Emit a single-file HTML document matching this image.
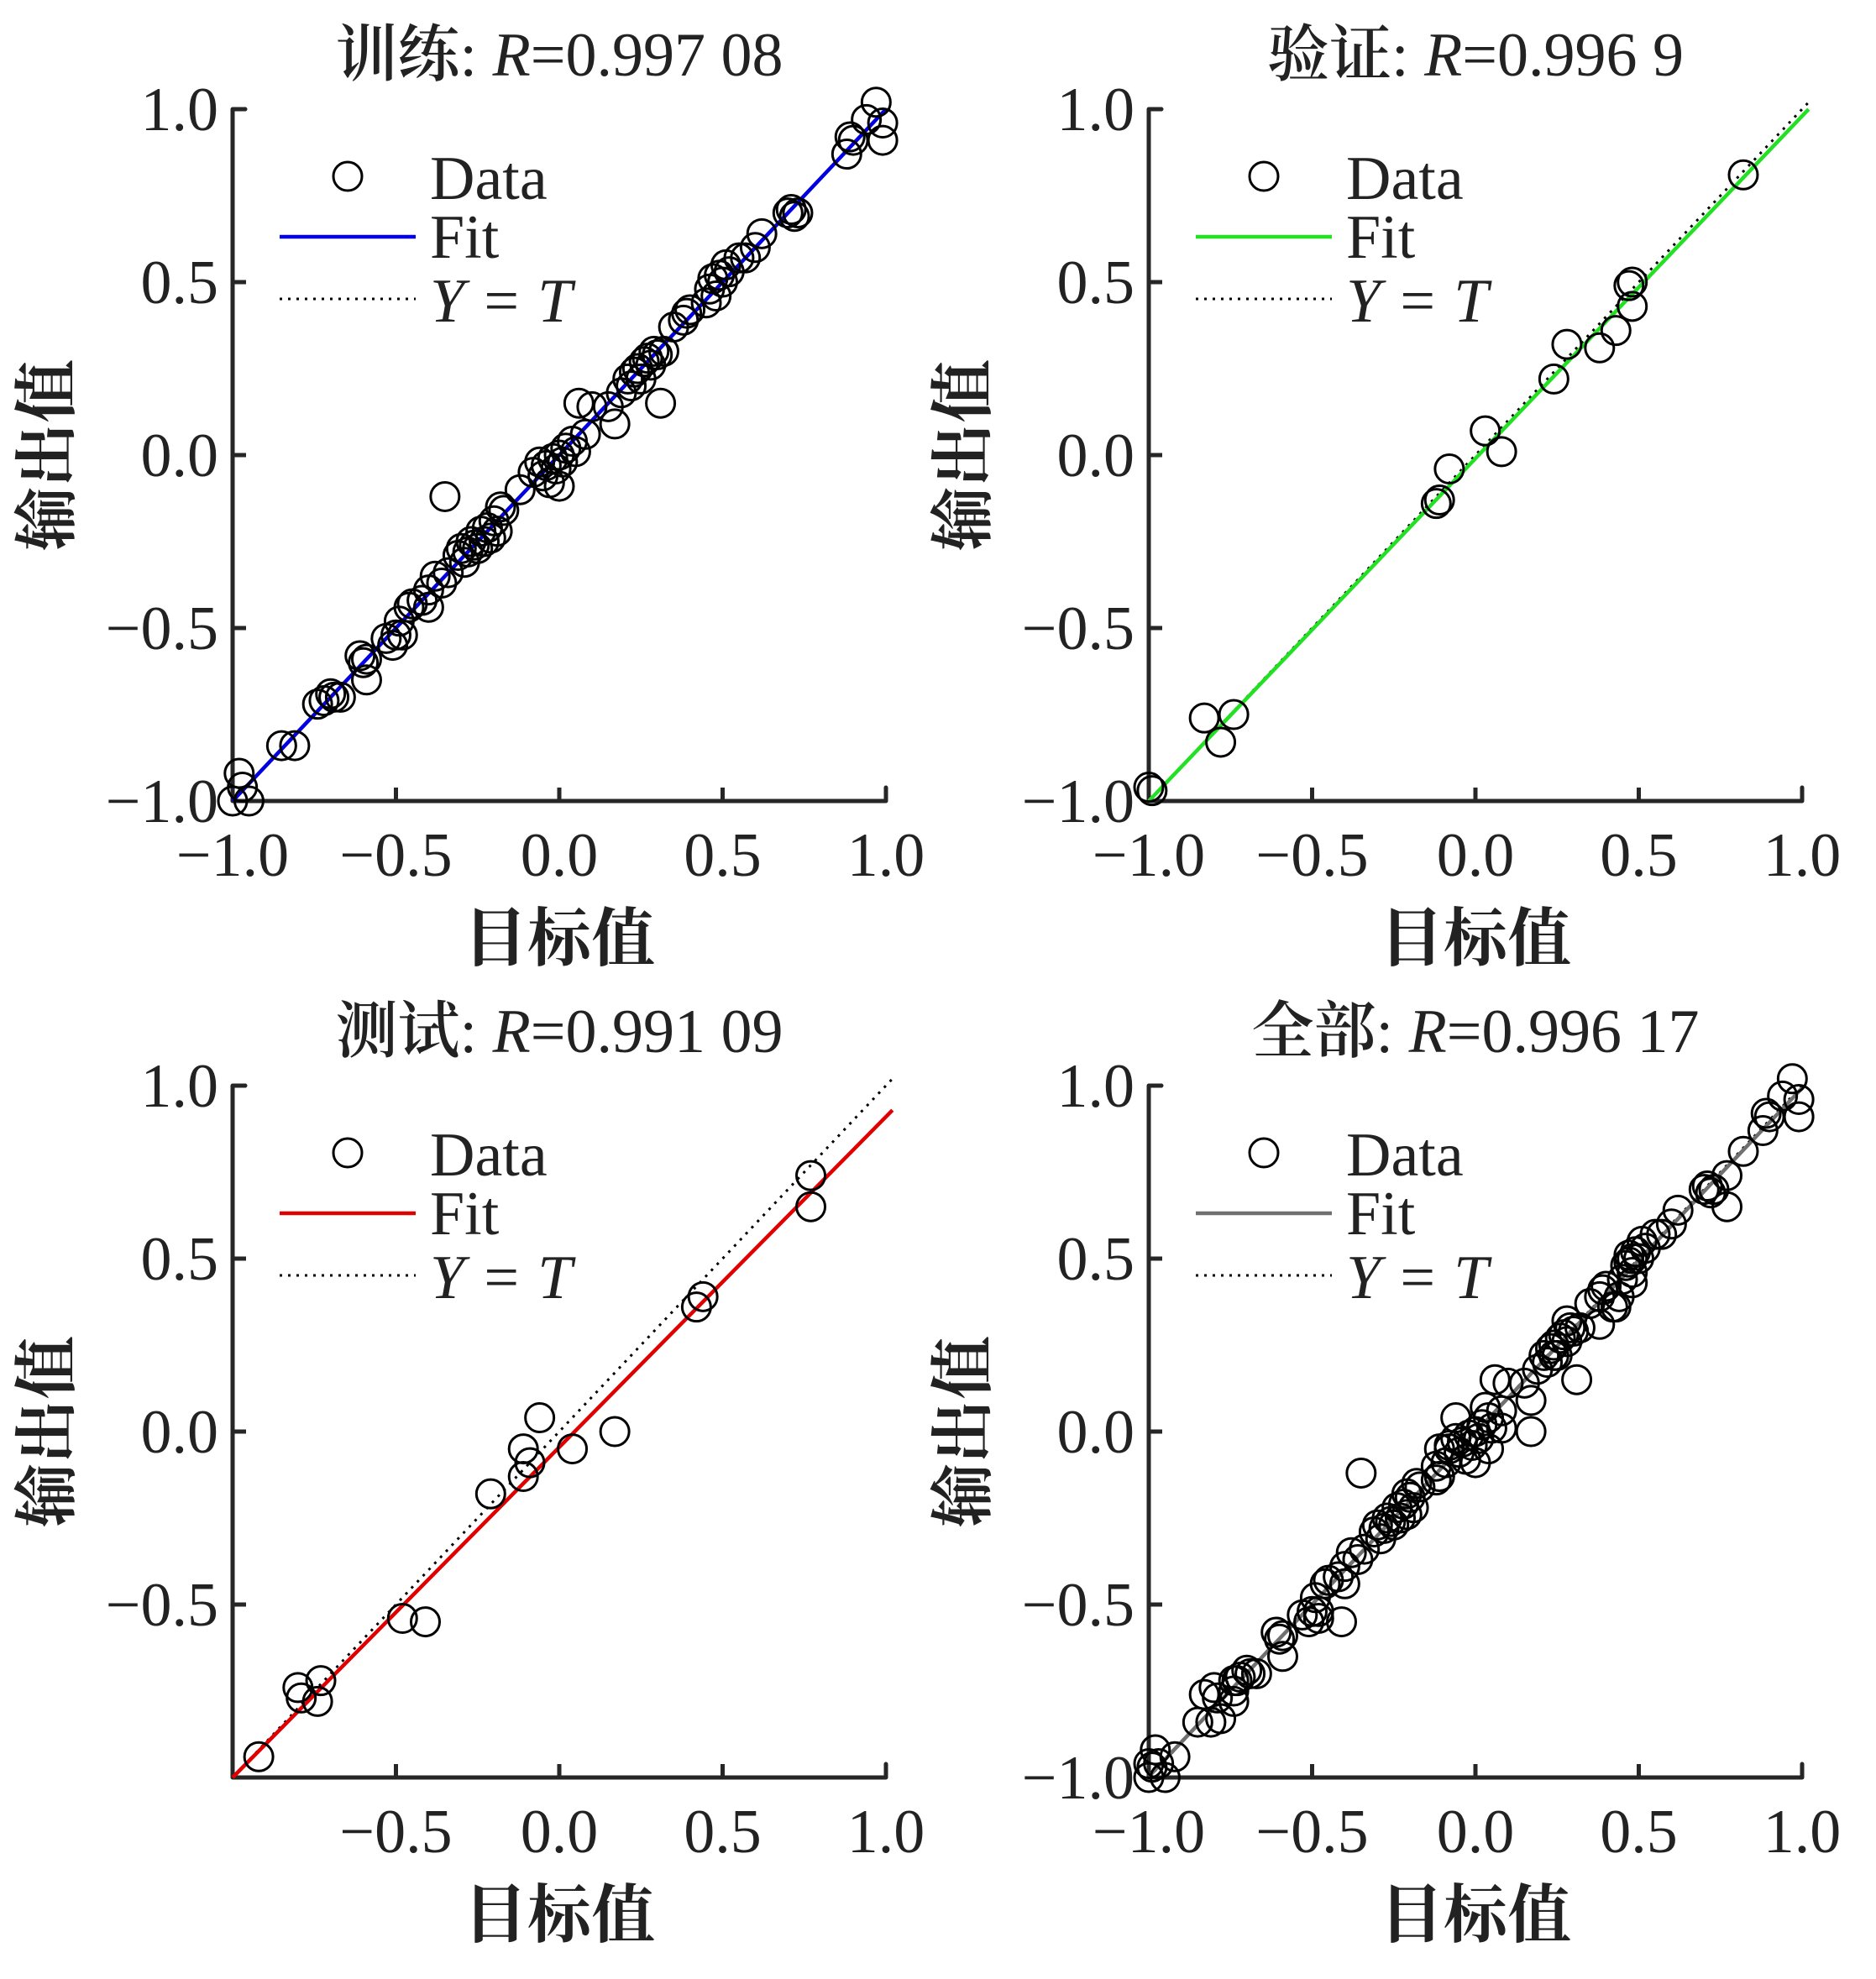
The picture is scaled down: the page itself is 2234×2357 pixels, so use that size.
<!DOCTYPE html>
<html><head><meta charset="utf-8"><style>
html,body{margin:0;padding:0;background:#fff;}
svg{display:block;}
text{font-family:"Liberation Serif","Noto Serif CJK SC",serif;fill:#222;}
.cjk{font-family:"Liberation Serif","Noto Serif CJK SC",serif;font-weight:700;}
.cjkt{font-family:"Liberation Serif","Noto Serif CJK SC",serif;font-weight:600;}
</style></head><body>
<svg id="fig" width="2234" height="2357" viewBox="0 0 2234 2357" xmlns="http://www.w3.org/2000/svg"></svg>
<script>
const trainT=[-1.0,-0.98,-0.97,-0.95,-0.85,-0.81,-0.74,-0.72,-0.70,-0.69,-0.67,-0.61,-0.60,-0.59,-0.59,-0.53,-0.51,-0.50,-0.49,-0.48,-0.46,-0.45,-0.42,-0.40,-0.40,-0.38,-0.36,-0.35,-0.34,-0.31,-0.30,-0.29,-0.28,-0.27,-0.26,-0.25,-0.24,-0.23,-0.22,-0.21,-0.20,-0.19,-0.18,-0.17,-0.12,-0.08,-0.06,-0.05,-0.04,-0.03,-0.02,-0.01,0.0,0.0,0.01,0.02,0.04,0.05,0.06,0.08,0.10,0.15,0.17,0.19,0.21,0.22,0.23,0.24,0.25,0.26,0.27,0.28,0.29,0.30,0.31,0.32,0.35,0.38,0.39,0.40,0.45,0.46,0.47,0.48,0.49,0.50,0.51,0.52,0.55,0.57,0.60,0.62,0.70,0.71,0.72,0.73,0.88,0.89,0.90,0.94,0.97,0.99,0.99];
const trainO=[-1.0,-0.92,-0.96,-1.0,-0.84,-0.84,-0.72,-0.71,-0.69,-0.70,-0.70,-0.58,-0.60,-0.59,-0.65,-0.53,-0.55,-0.52,-0.48,-0.52,-0.44,-0.43,-0.42,-0.39,-0.44,-0.35,-0.37,-0.12,-0.34,-0.29,-0.27,-0.31,-0.28,-0.25,-0.26,-0.27,-0.22,-0.25,-0.21,-0.24,-0.19,-0.22,-0.15,-0.16,-0.10,-0.05,-0.02,-0.06,-0.03,-0.08,-0.01,-0.04,-0.09,0.0,-0.02,0.02,0.04,0.01,0.15,0.06,0.14,0.14,0.09,0.18,0.22,0.20,0.24,0.25,0.22,0.27,0.28,0.26,0.30,0.29,0.15,0.30,0.37,0.39,0.41,0.42,0.44,0.48,0.51,0.46,0.52,0.50,0.55,0.53,0.57,0.57,0.60,0.64,0.70,0.71,0.69,0.70,0.87,0.92,0.91,0.97,1.02,0.96,0.91];
const valT=[-1.0,-0.99,-0.83,-0.78,-0.74,-0.12,-0.11,-0.08,0.03,0.08,0.24,0.28,0.38,0.43,0.47,0.48,0.48,0.82];
const valO=[-0.96,-0.97,-0.76,-0.83,-0.75,-0.14,-0.13,-0.04,0.07,0.01,0.22,0.32,0.31,0.36,0.49,0.50,0.43,0.81];
const testT=[-0.92,-0.80,-0.79,-0.74,-0.73,-0.48,-0.41,-0.21,-0.11,-0.11,-0.09,-0.06,0.04,0.17,0.42,0.44,0.77,0.77];
const testO=[-0.94,-0.74,-0.77,-0.78,-0.72,-0.54,-0.55,-0.18,-0.05,-0.13,-0.09,0.04,-0.05,0.0,0.36,0.39,0.74,0.65];
const allT=trainT.concat(valT,testT);
const allO=trainO.concat(valO,testO);
const ticks=[-1.0,-0.5,0.0,0.5,1.0];
const tickLabels=["\u22121.0","\u22120.5","0.0","0.5","1.0"];
const fitSlope=[1.0,0.99,0.955,0.995];
const fitIntercept=[0.0,-0.01,-0.045,-0.002];
const titleNames=["训练","验证","测试","全部"];
const titleR=["=0.997 08","=0.996 9","=0.991 09","=0.996 17"];
const fitColors=["#0000e0","#22e022","#e00000","#707070"];

const NS="http://www.w3.org/2000/svg";
const svg=document.getElementById('fig');
function mk(tag,attrs,parent){const e=document.createElementNS(NS,tag);for(const k in attrs)e.setAttribute(k,attrs[k]);(parent||svg).appendChild(e);return e;}

const W=778,H=824,X0=277,Y0=130,DX=1091,DY=1163;
const panels=[
 {T:trainT,O:trainO,dx:0,dy:0,xmax:1.0,skipMin:false},
 {T:valT,O:valO,dx:DX,dy:0,xmax:1.02,skipMin:false},
 {T:testT,O:testO,dx:0,dy:DY,xmax:1.02,skipMin:true},
 {T:allT,O:allO,dx:DX,dy:DY,xmax:1.0,skipMin:false}
];
panels.forEach((p,i)=>{
  const g=mk('g',{});
  
  
  const x0=X0+p.dx,y0=Y0+p.dy;
  const sx=v=>x0+(v+1)/2*W;
  const sy=v=>y0+H-(v+1)/2*H;
  const t=mk('text',{x:x0+W/2,y:y0-40,'text-anchor':'middle','font-size':74},g);
  
  
  const a=mk('tspan',{class:'cjkt'},t);a.textContent=titleNames[i];
  const b=mk('tspan',{},t);b.textContent=': ';
  const c=mk('tspan',{'font-style':'italic'},t);c.textContent='R';
  const d=mk('tspan',{},t);d.textContent=titleR[i];
  const ax=mk('path',{d:`M${x0} ${y0}H${x0+15}M${x0} ${y0}V${y0+H}H${x0+W}V${y0+H-16}`,fill:'none',stroke:'#262626','stroke-width':5,'stroke-linecap':'round','stroke-linejoin':'round'},g);
  
  
  ticks.forEach((v,k)=>{
    mk('line',{x1:sx(v),x2:sx(v),y1:y0+H,y2:y0+H-16,stroke:'#262626','stroke-width':5},g);
    mk('line',{x1:x0,x2:x0+16,y1:sy(v),y2:sy(v),stroke:'#262626','stroke-width':5},g);
    if(!(p.skipMin&&k===0)){
      const xl=mk('text',{x:sx(v),y:y0+H+89,'text-anchor':'middle','font-size':74},g);
      xl.textContent=tickLabels[k];
      
      
      const yl=mk('text',{x:x0-17,y:sy(v)+25,'text-anchor':'end','font-size':74},g);
      yl.textContent=tickLabels[k];
      
      
    }
  });
  const xt=mk('text',{x:x0+W/2,y:y0+H+190,'text-anchor':'middle','font-size':76,class:'cjk'},g);
  xt.textContent='目标值';
  
  
  const yx=x0-195,yy=y0+H/2;
  const yt=mk('text',{x:yx,y:yy,'text-anchor':'middle','font-size':76,class:'cjk',transform:`rotate(-90 ${yx} ${yy})`},g);
  yt.textContent='输出值';
  
  
  const yeq=mk('line',{x1:sx(-1),y1:sy(-1),x2:sx(p.xmax),y2:sy(p.xmax),stroke:'#000','stroke-width':3,'stroke-dasharray':'3 7'},g);
  
  
  const f=x=>fitSlope[i]*x+fitIntercept[i];
  const fl=mk('line',{x1:sx(-1),y1:sy(f(-1)),x2:sx(p.xmax),y2:sy(f(p.xmax)),stroke:fitColors[i],'stroke-width':4.5},g);
  
  
  p.T.forEach((tv,j)=>{
    const ci=mk('circle',{cx:sx(tv),cy:sy(p.O[j]),r:17,fill:'none',stroke:'#000','stroke-width':3},g);
    
    
  });
  const lg=mk('g',{},g);
  
  
  const lx=x0-277;
  mk('circle',{cx:lx+414,cy:y0+80,r:17,fill:'none',stroke:'#000','stroke-width':3},lg);
  const l1=mk('text',{x:lx+512,y:y0+107,'font-size':74},lg);l1.textContent='Data';
  
  
  mk('line',{x1:lx+333,x2:lx+495,y1:y0+152,y2:y0+152,stroke:fitColors[i],'stroke-width':4.5},lg);
  const l2=mk('text',{x:lx+512,y:y0+177,'font-size':74},lg);l2.textContent='Fit';
  
  
  mk('line',{x1:lx+333,x2:lx+495,y1:y0+226,y2:y0+226,stroke:'#000','stroke-width':3,'stroke-dasharray':'3 7'},lg);
  const l3=mk('text',{x:lx+512,y:y0+253,'font-size':74,'font-style':'italic'},lg);l3.textContent='Y = T';
  
  
});
</script>
</body></html>
